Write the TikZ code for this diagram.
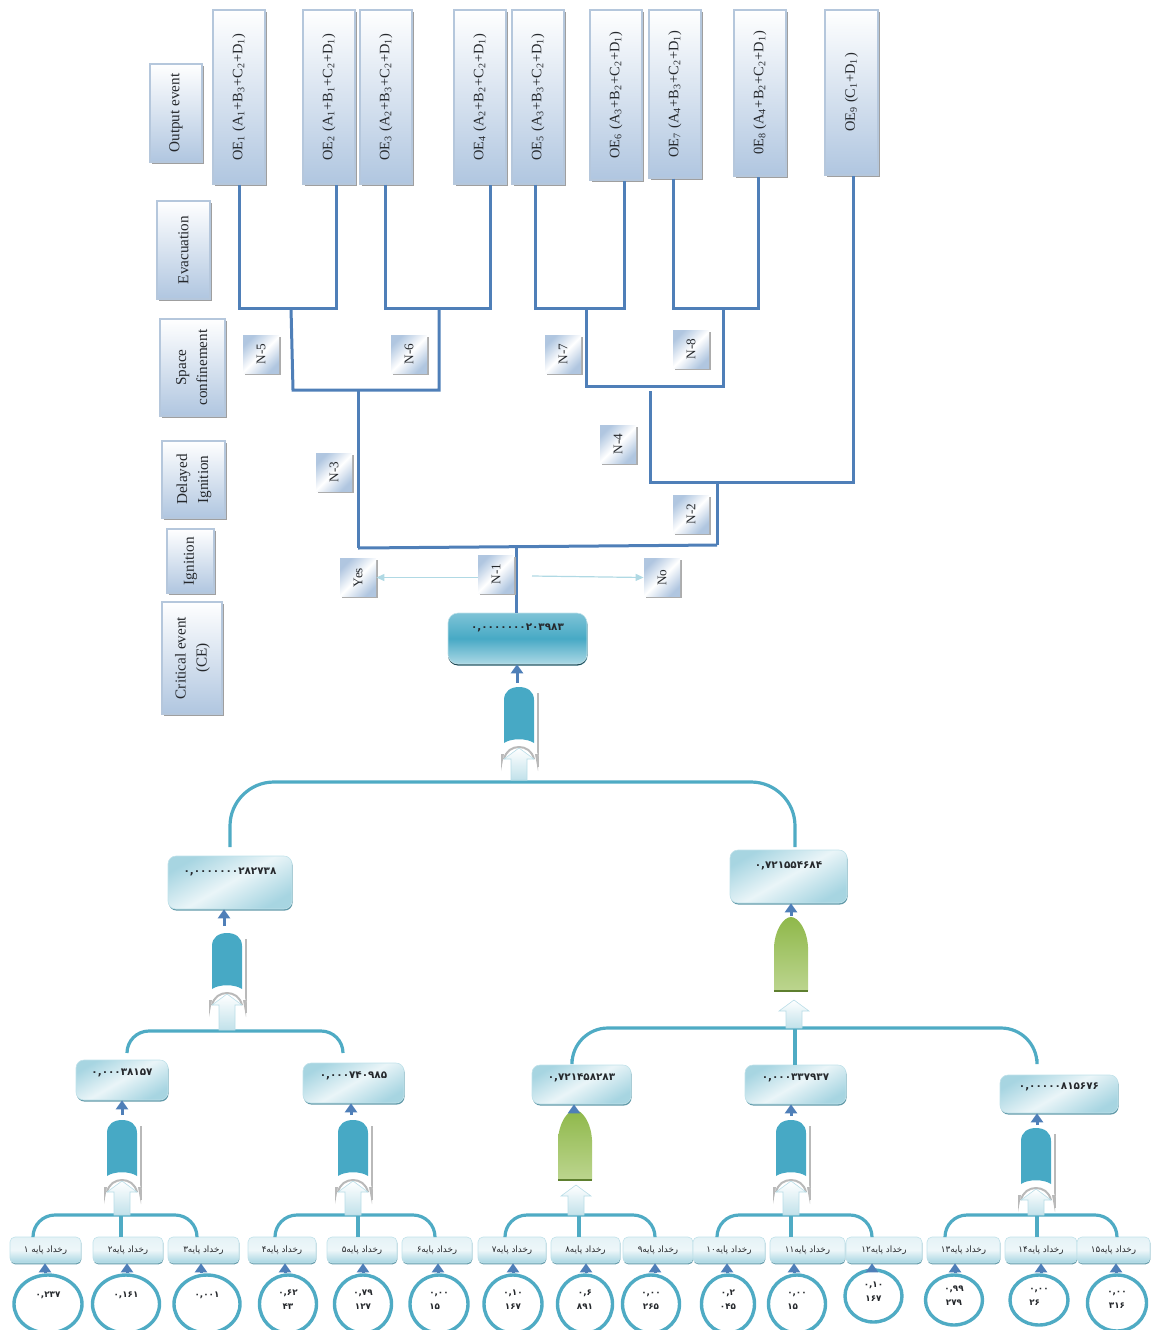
\documentclass[tikz,border=0pt]{standalone}
\usepackage{fontspec}
\usepackage{graphicx}
\usetikzlibrary{arrows.meta,shadows,shapes.geometric}
\setmainfont{Liberation Serif}
\newfontfamily\perfont[Script=Arabic]{DejaVu Sans}
\TeXXeTstate=1
\definecolor{treeline}{HTML}{4F7FB8}
\definecolor{bracket}{HTML}{4FABC4}
\definecolor{gateblue}{HTML}{47A9C5}
\definecolor{inktext}{HTML}{25282C}
\definecolor{oefill}{HTML}{B0C6E0}
\definecolor{oeedge}{HTML}{B5C7DC}
\definecolor{gatetop}{HTML}{8FB84A}
\definecolor{gatebot}{HTML}{BCD58F}
\definecolor{gatebar}{HTML}{5E7F2F}
\newcommand\subs[1]{\textsubscript{#1}}
\newcommand\ntext[1]{\rotatebox{90}{#1}}
\newcommand\oetext[1]{\rotatebox{90}{#1}\hspace{2.5pt}}
\newcommand\oemain[1]{{\fontsize{7.2}{9}\selectfont\rotatebox{90}{#1}\hspace{2.5pt}}}
\newcommand\lbltwo[2]{\rotatebox{90}{\begin{tabular}{@{}c@{}}#1\\#2\end{tabular}}}
\newcommand\farsi[1]{\beginR #1\endR}
\newcommand\uptext[2]{\smash{\raisebox{#1}{#2}}}
\newcommand\one[1]{\uptext{3.5pt}{#1}}
\newcommand\two[2]{\uptext{-2.5pt}{\shortstack{#1\\[0.4pt]#2}}}
\newcommand\twol[2]{\uptext{-2.5pt}{\shortstack[l]{#1\\[0.4pt]#2}}}
\tikzset{
  oebox/.style={rectangle,draw=oeedge,line width=.6pt,top color=white,bottom color=oefill,
    general shadow={fill=gray!75,shadow xshift=.9pt,shadow yshift=-.9pt},
    text=inktext,font=\fontsize{7.6}{10.5}\selectfont,inner sep=0pt},
  nbox/.style={rectangle,shading=axis,top color=oefill,bottom color=oefill,
    middle color=white,shading angle=45,
    general shadow={fill=gray!65,shadow xshift=.8pt,shadow yshift=-.8pt},
    text=inktext,font=\fontsize{6.6}{8}\selectfont,inner sep=0pt,minimum width=18pt,minimum height=19pt},
  valbox/.style={rectangle,rounded corners=4pt,draw=bracket!35,line width=.3pt,
    shading=axis,top color=bracket!50,bottom color=bracket!50,middle color=bracket!12,shading angle=30,
    general shadow={fill=bracket!60!gray,shadow xshift=.3pt,shadow yshift=-.8pt},
    text=inktext,font=\perfont\fontsize{5.2}{6}\selectfont\bfseries,inner sep=0pt},
  leafbox/.style={rectangle,rounded corners=2.5pt,draw=bracket!35,line width=.3pt,
    shading=axis,top color=bracket!15,bottom color=bracket!50,middle color=bracket!10,
    general shadow={fill=bracket!60!gray,shadow xshift=.2pt,shadow yshift=-.7pt},
    text=inktext,font=\perfont\fontsize{4.4}{6}\selectfont,inner sep=0pt,minimum height=13pt},
  leafcirc/.style={ellipse,draw=bracket,line width=1.7pt,fill=white,inner sep=0pt,
    text=inktext,font=\perfont\fontsize{4.4}{5}\selectfont\bfseries},
  tree/.style={draw=treeline,line width=1.5pt},
  arc/.style={draw=bracket,line width=1.6pt},
  stub/.style={draw=treeline,line width=1.5pt,-{Triangle[width=6pt,length=4.5pt]}},
  thinarrow/.style={draw=bracket!45,line width=.6pt,-{Triangle[width=3.5pt,length=4pt]}}
}
% block arrow pointing up: centre, tip, bottom
\newcommand\upblock[3]{%
  \begin{scope}[shift={(#1,#2)}]
    \path[draw=bracket!40,line width=.3pt,top color=white,bottom color=bracket!35]
      (0,0) -- (15,11) -- (8,11) -- (8,{#3-(#2)}) -- (-8,{#3-(#2)}) -- (-8,11) -- (-15,11) -- cycle;
  \end{scope}}
% blue gate: centre, top, bottom of shaft
\newcommand\bluegate[3]{%
  \begin{scope}[shift={(#1,#2)}]
    \draw[gray!55,line width=.7pt] (19,6) -- (19,80);
    \fill[gateblue] (-15,56) -- (-15,13) .. controls (-15,4) and (-8,0) .. (0,0)
      .. controls (8,0) and (15,4) .. (15,13) -- (15,56) .. controls (8,51) and (-8,51) .. (-15,56) -- cycle;
    \draw[white,line width=2.5pt] (-17,70) .. controls (-14,60) and (-8,56) .. (0,56) .. controls (8,56) and (14,60) .. (17,70);
    \draw[gray!55,line width=1pt] (-15,72) .. controls (-13,64) and (-7,60) .. (0,60) .. controls (7,60) and (13,64) .. (15,72);
    \fill[gray!55] (-18,67) -- (-15,67) -- (-18,84) -- cycle;
    \fill[gray!55] (19,67) -- (16,67) -- (19,84) -- cycle;
  \end{scope}
  \upblock{#1}{#2+61}{#3}}
% green gate: centre, top, height
\newcommand\greengate[3]{%
  \begin{scope}[shift={(#1,#2)}]
    \path[top color=gatetop,bottom color=gatebot]
      (-17,#3) -- (-17,30) .. controls (-16,12) and (-7,0) .. (0,0)
      .. controls (7,0) and (16,12) .. (17,30) -- (17,#3) -- cycle;
    \draw[gatebar,line width=1.2pt] (-17,#3) -- (17,#3);
  \end{scope}}
\begin{document}
\begin{tikzpicture}[x=.5pt,y=-.5pt]
\useasboundingbox (0,0) rectangle (1151,1330);
\clip (0,0) rectangle (1151,1330);

% left captions
\node[oebox,minimum width=26pt,minimum height=49pt] (lbOut) at (176,113) {\oetext{Output event}};
\node[oebox,minimum width=26.5pt,minimum height=49pt] (lbEva) at (183.5,250) {\oetext{Evacuation}};
\node[oebox,minimum width=32.5pt,minimum height=48.5pt] (lbSpa) at (192.5,367.5) {\lbltwo{Space}{confinement}};
\node[oebox,minimum width=31.5pt,minimum height=38.5pt] (lbDel) at (193.5,479.5) {\lbltwo{Delayed}{Ignition}};
\node[oebox,minimum width=23.5pt,minimum height=32pt] (lbIgn) at (190.5,561) {\oetext{Ignition}};
\node[oebox,minimum width=30pt,minimum height=56pt] (lbCri) at (192,658) {\lbltwo{Critical event}{(CE)}};

% output events
\node[oebox,minimum width=26pt,minimum height=87pt] (oe1) at (239,97) {\oemain{OE\subs{1} (A\subs{1}+B\subs{3}+C\subs{2}+D\subs{1})}};
\node[oebox,minimum width=26pt,minimum height=87pt] (oe2) at (329,97) {\oemain{OE\subs{2} (A\subs{1}+B\subs{1}+C\subs{2}+D\subs{1})}};
\node[oebox,minimum width=26pt,minimum height=87pt] (oe3) at (386,97) {\oemain{OE\subs{3} (A\subs{2}+B\subs{3}+C\subs{2}+D\subs{1})}};
\node[oebox,minimum width=26pt,minimum height=87pt] (oe4) at (480,97) {\oemain{OE\subs{4} (A\subs{2}+B\subs{2}+C\subs{2}+D\subs{1})}};
\node[oebox,minimum width=26pt,minimum height=87pt] (oe5) at (538,97) {\oemain{OE\subs{5} (A\subs{3}+B\subs{3}+C\subs{2}+D\subs{1})}};
\node[oebox,minimum width=26pt,minimum height=85pt] (oe6) at (616,95) {\oemain{OE\subs{6} (A\subs{3}+B\subs{2}+C\subs{2}+D\subs{1})}};
\node[oebox,minimum width=26pt,minimum height=84pt] (oe7) at (675,94) {\oemain{OE\subs{7} (A\subs{4}+B\subs{3}+C\subs{2}+D\subs{1})}};
\node[oebox,minimum width=26pt,minimum height=83pt] (oe8) at (760,93) {\oemain{0E\subs{8} (A\subs{4}+B\subs{2}+C\subs{2}+D\subs{1})}};
\node[oebox,minimum width=26.5pt,minimum height=82.5pt] (oe9) at (851.5,92.5) {\oemain{OE\subs{9} (C\subs{1}+D\subs{1})}};

% critical event and value boxes
\node[valbox,rounded corners=5pt,minimum width=69.5pt,minimum height=25.5pt,top color=gateblue!70,bottom color=gateblue!45,middle color=gateblue,shading angle=0,
  general shadow={fill=black!60!gateblue,shadow xshift=0pt,shadow yshift=-.7pt}] (ce) at (517.5,638.5) {\uptext{4.2pt}{۰,۰۰۰۰۰۰۰۲۰۳۹۸۳}};
\node[valbox,minimum width=62pt,minimum height=26.5pt] (vL) at (230,882.5) {\uptext{4.2pt}{۰,۰۰۰۰۰۰۰۲۸۲۷۳۸}};
\node[valbox,minimum width=58.5pt,minimum height=26.5pt] (vR) at (788.5,876.5) {\uptext{4.2pt}{۰,۷۲۱۵۵۴۶۸۴}};
\node[valbox,minimum width=46pt,minimum height=20pt] (v1) at (122,1080) {\uptext{2.2pt}{۰,۰۰۰۳۸۱۵۷}};
\node[valbox,minimum width=50.5pt,minimum height=20pt] (v2) at (353.5,1083) {\uptext{2.2pt}{۰,۰۰۰۷۴۰۹۸۵}};
\node[valbox,minimum width=49.5pt,minimum height=19.5pt] (v3) at (581.5,1084.5) {\uptext{2.2pt}{۰,۷۲۱۴۵۸۲۸۳}};
\node[valbox,minimum width=50.5pt,minimum height=19.5pt] (v4) at (795.5,1084.5) {\uptext{2.2pt}{۰,۰۰۰۳۳۷۹۳۷}};
\node[valbox,minimum width=59pt,minimum height=19pt] (v5) at (1059,1094) {\uptext{2.2pt}{۰,۰۰۰۰۰۸۱۵۶۷۶}};

% leaf boxes
\foreach \i/\a/\b/\t in {1/10/81/{رخداد پایه ۱},2/93/163/{رخداد پایه۲},3/168/239/{رخداد پایه۳},
  4/248/316/{رخداد پایه۴},5/327/397/{رخداد پایه۵},6/402/472/{رخداد پایه۶},
  7/478/546/{رخداد پایه۷},8/551/620/{رخداد پایه۸},9/623/693/{رخداد پایه۹},
  10/693/765/{رخداد پایه۱۰},11/770/845/{رخداد پایه۱۱},12/846/922/{رخداد پایه۱۲},
  13/927/1000/{رخداد پایه۱۳},14/1005/1077/{رخداد پایه۱۴},15/1077/1150/{رخداد پایه۱۵}}
  \node[leafbox,minimum width={(\b-\a)*.5pt}] (b\i) at ({(\a+\b)/2},1250) {\farsi{\t}};

% leaf circles
\foreach \i/\x/\y/\rx/\ry/\t in {1/48/1304/34/29/{\one{۰,۲۳۷}},2/126/1304/33.5/29/{\one{۰,۱۶۱}},3/207/1304/33/29/{\one{۰,۰۰۱}},
  4/288/1304/28.5/29/{\two{۰,۶۲}{۴۳}},5/363/1304/28.5/29/{\two{۰,۷۹}{۱۲۷}},6/439/1304/29/29/{\twol{۰,۰۰}{۱۵}},
  7/513/1304/29/29/{\two{۰,۱۰}{۱۶۷}},8/585/1304/27.5/29/{\two{۰,۶}{۸۹۱}},9/651/1304/28.5/29/{\two{۰,۰۰}{۲۶۵}},
  10/728/1304/26.5/29/{\two{۰,۲}{۰۴۵}},11/797/1304/28.5/29/{\twol{۰,۰۰}{۱۵}},12/873.5/1296/28.5/26/{\two{۰,۱۰}{۱۶۷}},
  13/954/1300/28.5/25/{\two{۰,۹۹}{۲۷۹}},14/1039/1300/29/25/{\twol{۰,۰۰}{۲۶}},15/1117/1303/29.5/28/{\two{۰,۰۰}{۳۱۶}}}
  \node[leafcirc,minimum width={2*\rx*.5pt},minimum height={2*\ry*.5pt}] (c\i) at (\x,\y) {\t};

% tree branches
\foreach \n/\x/\y in {ja/239/308,jb/336/308,jc/385/308,jd/490/308,je/535/308,jf/624/308,jg/673/308,jh/758/308,
  sa/291/308,sb/439/308,sc/586/308,sd/723/308,ma/293/390,mb/358/390,mc/586/386,md/650/391,me/650/482,
  mf/717/482,mg/853/482,ra/358/548,rb/516/548,rc/717/545}
  \coordinate (\n) at (\x,\y);
\draw[tree] (ja |- oe1.south) -- (ja) -- (jb) -- (jb |- oe2.south);
\draw[tree] (jc |- oe3.south) -- (jc) -- (jd) -- (jd |- oe4.south);
\draw[tree] (je |- oe5.south) -- (je) -- (jf) -- (jf |- oe6.south);
\draw[tree] (jg |- oe7.south) -- (jg) -- (jh) -- (jh |- oe8.south);
\draw[tree] (sa) -- (ma) -- (sb |- ma) -- (sb);
\draw[tree] (sc) -- (mc) -- (sd |- mc) -- (sd);
\draw[tree] (md) -- (me) -- (mg) -- (mg |- oe9.south);
\draw[tree] (mf) -- (rc);
\draw[tree] (mb) -- (ra);
\draw[tree] (ra) -- (rc);
\draw[tree] (rb) -- (rb |- ce.north);

% decision labels
\node[nbox] (n5) at (261,354) {\ntext{N-5}};
\node[nbox] (n6) at (409,354) {\ntext{N-6}};
\node[nbox] (n7) at (563,354) {\ntext{N-7}};
\node[nbox] (n8) at (691,349) {\ntext{N-8}};
\node[nbox] (n3) at (334,472) {\ntext{N-3}};
\node[nbox] (n4) at (618,444) {\ntext{N-4}};
\node[nbox] (n2) at (691,514) {\ntext{N-2}};
\node[nbox] (n1) at (496,574) {\ntext{N-1}};
\node[nbox] (yes) at (358,577.5) {\ntext{Yes}};
\node[nbox] (no) at (662,577.5) {\ntext{No}};
\coordinate (nofrom) at (532,576);
\draw[thinarrow] (n1.west |- yes) -- (yes.east);
\draw[thinarrow] (nofrom) -- (no.west);

% brackets
\foreach \n/\x/\y in {ta/519/782,tl/230/847,tr/795/847,ua/227/1031,ul/127/1053,ur/343/1053,
  va/795/1028,vl/572/1059,vr/1037/1059,p1/121/1215,q1/33/1215,r1/197/1215,p2/358/1215,q2/275/1215,r2/435/1215,
  p3/579/1215,q3/505/1215,r3/655/1215,p4/791/1215,q4/717/1215,r4/872/1215,p5/1037/1215,q5/945/1215,r5/1117/1215}
  \coordinate (\n) at (\x,\y);
\draw[arc,rounded corners=22pt] (tl) |- (ta) -| (tr);
\draw[arc,rounded corners=11pt] (ul) |- (ua) -| (ur);
\draw[arc,rounded corners=18pt] (vl) |- (va) -| (vr);
\draw[arc] (va) -- (va |- v4.north);
\foreach \k/\l/\m/\r in {1/1/2/3,2/4/5/6,3/7/8/9,4/10/11/12,5/13/14/15}{
  \draw[arc,rounded corners=11pt] (q\k |- b\l.north) |- (p\k) -| (r\k |- b\r.north);
  \draw[arc] (p\k) -- (p\k |- b\m.north);
}

% gates
\bluegate{519}{687}{780}
\bluegate{227}{933}{1030}
\bluegate{122}{1120}{1215}
\bluegate{353}{1120}{1215}
\bluegate{791}{1120}{1215}
\bluegate{1036}{1128}{1215}
\greengate{791}{917}{74}
\upblock{794}{1000}{1028}
\greengate{575}{1110}{70}
\upblock{576}{1185}{1215}

% arrows from gates to boxes
\foreach \n/\x/\y in {gce/517/683,gvl/224/926,gvr/791/916,gv1/122/1115,gv2/351/1115,gv3/574/1112,gv4/791/1116,gv5/1037/1125}
  \coordinate (\n) at (\x,\y);
\draw[stub] (gce) -- (gce |- ce.south);
\draw[stub] (gvl) -- (gvl |- vL.south);
\draw[stub] (gvr) -- (gvr |- vR.south);
\draw[stub] (gv1) -- (gv1 |- v1.south);
\draw[stub] (gv2) -- (gv2 |- v2.south);
\draw[stub] (gv3) -- (gv3 |- v3.south);
\draw[stub] (gv4) -- (gv4 |- v4.south);
\draw[stub] (gv5) -- (gv5 |- v5.south);

% arrows from circles to leaf boxes
\foreach \i/\x in {1/45,2/127,3/201,4/285,5/363,6/438,7/513,8/586,9/655,10/727,11/794,12/872,13/955,14/1041,15/1116}{
  \coordinate (a\i) at (\x,1270);
  \draw[stub] (a\i |- c\i.north) -- (a\i |- b\i.south);
}
\end{tikzpicture}
\end{document}
